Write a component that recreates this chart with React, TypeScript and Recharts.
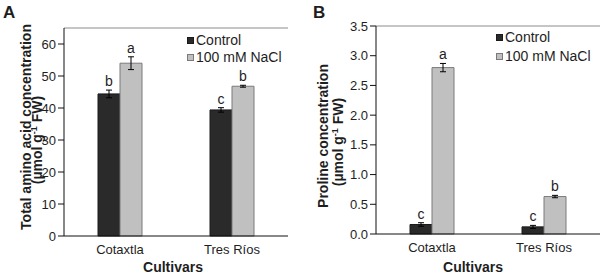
import React from 'react';
import { BarChart, Bar, XAxis, YAxis, ErrorBar, LabelList, Legend, ReferenceLine } from 'recharts';

const cultivars = ['Cotaxtla', 'Tres Ríos'];
const seriesNames = ['Control', '100 mM NaCl'];

const aminoControl = [44.4, 39.4];
const aminoControlErr = [1.2, 0.7];
const aminoControlLetters = ['b', 'c'];
const aminoNaCl = [54.0, 46.8];
const aminoNaClErr = [2.0, 0.3];
const aminoNaClLetters = ['a', 'b'];
const aminoTicks = [0, 10, 20, 30, 40, 50, 60];

const prolineControl = [0.16, 0.12];
const prolineControlErr = [0.03, 0.025];
const prolineControlLetters = ['c', 'c'];
const prolineNaCl = [2.8, 0.63];
const prolineNaClErr = [0.07, 0.02];
const prolineNaClLetters = ['a', 'b'];
const prolineTicks = [0, 0.5, 1.0, 1.5, 2.0, 2.5, 3.0, 3.5];

const FONT = '"Liberation Sans", Arial, Helvetica, sans-serif';
const CTRL_FILL = '#2a2a2a';
const CTRL_STROKE = '#1a1a1a';
const NACL_FILL = '#c0c0c0';
const NACL_STROKE = '#7a7a7a';
const TEXT = '#1e1e1e';
const BORDER = '#8c8c8c';

const buildRows = (c: number[], ce: number[], cl: string[], n: number[], ne: number[], nl: string[]) =>
  cultivars.map((name, i) => ({
    name,
    control: c[i],
    controlErr: ce[i],
    controlLetter: cl[i],
    nacl: n[i],
    naclErr: ne[i],
    naclLetter: nl[i],
  }));

const aminoData = buildRows(aminoControl, aminoControlErr, aminoControlLetters, aminoNaCl, aminoNaClErr, aminoNaClLetters);
const prolineData = buildRows(prolineControl, prolineControlErr, prolineControlLetters, prolineNaCl, prolineNaClErr, prolineNaClLetters);

const makeLetter = (rows: any[], valKey: string, errKey: string) => (props: any) => {
  const { x, y, width, height, value, index } = props;
  const row = rows[index];
  const v = row[valKey];
  const errPx = v ? (row[errKey] / v) * height : 0;
  return (
    <text
      x={x + width / 2}
      y={y - errPx - 4}
      textAnchor="middle"
      fontFamily={FONT}
      fontSize={14}
      fill={TEXT}
    >
      {value}
    </text>
  );
};

const ORDER = ['control', 'nacl'];

const LegendBox = ({ payload, rowH, sq }: any) => {
  const items = [...(payload || [])].sort(
    (a: any, b: any) => ORDER.indexOf(a.dataKey) - ORDER.indexOf(b.dataKey)
  );
  return (
    <div style={{ fontFamily: FONT, fontSize: 14, color: TEXT, lineHeight: `${rowH}px`, whiteSpace: 'nowrap' }}>
      {items.map((p: any) => {
        const isCtrl = p.dataKey === 'control';
        return (
          <div key={p.dataKey} style={{ display: 'flex', alignItems: 'center', height: rowH }}>
            <span
              style={{
                display: 'inline-block',
                width: sq,
                height: sq,
                boxSizing: 'border-box',
                background: isCtrl ? CTRL_FILL : NACL_FILL,
                border: `1px solid ${isCtrl ? CTRL_STROKE : NACL_STROKE}`,
                marginRight: 2,
              }}
            />
            <span>{p.value}</span>
          </div>
        );
      })}
    </div>
  );
};

const YTitle = ({ letter, lx, l1, l1x, l1y, l2x, l2y }: any) => () => (
  <g fontFamily={FONT} fill={TEXT} fontWeight="bold">
    <text x={lx} y={17.5} fontSize={17} fontWeight="bold" fill={TEXT}>
      {letter}
    </text>
    <text x={l1x} y={l1y} fontSize={14} textAnchor="middle" transform={`rotate(-90, ${l1x}, ${l1y})`} fill={TEXT}>
      {l1}
    </text>
    <text x={l2x} y={l2y} fontSize={14} textAnchor="middle" transform={`rotate(-90, ${l2x}, ${l2y})`} fill={TEXT}>
      (µmol g<tspan fontSize={9} dy={-5}>-1</tspan>
      <tspan dy={5}> FW)</tspan>
    </text>
  </g>
);

const XTitle = (cx: number) => () => (
  <text x={cx} y={271.5} textAnchor="middle" fontFamily={FONT} fontSize={14} fontWeight="bold" fill={TEXT}>
    Cultivars
  </text>
);

const tickStyle = { fontFamily: FONT, fontSize: 13, fill: TEXT };

interface PanelProps {
  data: any[];
  width: number;
  left: number;
  marginLeft: number;
  marginRight: number;
  top: number;
  bottomAxis: number;
  domainMax: number;
  ticks: number[];
  fmt: (v: number) => string;
  title: any;
  xTitle: any;
  legendLeft: number;
  legendTop: number;
  legendRowH: number;
  legendSq: number;
}

const Panel = (p: PanelProps) => (
  <div style={{ position: 'absolute', left: p.left, top: 0 }}>
    <BarChart
      width={p.width}
      height={277}
      data={p.data}
      margin={{ top: p.top, right: p.marginRight, bottom: 0, left: p.marginLeft }}
      barSize={22}
      barGap={0}
    >
      <XAxis
        dataKey="name"
        height={277 - p.bottomAxis}
        axisLine={{ stroke: '#111', strokeWidth: 1 }}
        tickLine={false}
        tickSize={0}
        tickMargin={8.5}
        tick={tickStyle}
        label={p.xTitle}
      />
      <YAxis
        yAxisId="l"
        domain={[0, p.domainMax]}
        ticks={p.ticks}
        tickFormatter={p.fmt}
        interval={0}
        width={30}
        axisLine={{ stroke: '#111', strokeWidth: 1 }}
        tickLine={{ stroke: '#111' }}
        tickSize={6}
        tickMargin={2}
        tick={tickStyle}
        label={p.title}
      />
      <YAxis
        yAxisId="r"
        orientation="right"
        domain={[0, p.domainMax]}
        width={0}
        tick={false}
        tickLine={false}
        axisLine={{ stroke: BORDER, strokeWidth: 1 }}
      />
      <ReferenceLine yAxisId="l" y={p.domainMax} stroke={BORDER} strokeWidth={1} />
      <Legend
        layout="vertical"
        align="center"
        verticalAlign="middle"
        wrapperStyle={{ left: p.legendLeft, top: p.legendTop, width: 'auto', height: 'auto' }}
        content={(props: any) => <LegendBox {...props} rowH={p.legendRowH} sq={p.legendSq} />}
      />
      <Bar yAxisId="l" dataKey="control" name={seriesNames[0]} fill={CTRL_FILL} stroke={CTRL_STROKE} strokeWidth={1} isAnimationActive={false}>
        <ErrorBar dataKey="controlErr" width={3} stroke="#000" strokeWidth={1} />
        <LabelList dataKey="controlLetter" content={makeLetter(p.data, 'control', 'controlErr')} />
      </Bar>
      <Bar yAxisId="l" dataKey="nacl" name={seriesNames[1]} fill={NACL_FILL} stroke={NACL_STROKE} strokeWidth={1} isAnimationActive={false}>
        <ErrorBar dataKey="naclErr" width={3} stroke="#000" strokeWidth={1} />
        <LabelList dataKey="naclLetter" content={makeLetter(p.data, 'nacl', 'naclErr')} />
      </Bar>
    </BarChart>
  </div>
);

export default function App() {
  return (
    <div style={{ position: 'absolute', left: 0, top: 0, width: 602, height: 277, background: '#fff', overflow: 'hidden' }}>
      <Panel
        data={aminoData}
        width={300}
        left={0}
        marginLeft={34}
        marginRight={12}
        top={28}
        bottomAxis={236}
        domainMax={65}
        ticks={aminoTicks}
        fmt={(v: number) => String(v)}
        title={YTitle({
          letter: 'A',
          lx: 3,
          l1: 'Total amino acid concentration',
          l1x: 31,
          l1y: 127,
          l2x: 41.5,
          l2y: 140,
        })}
        xTitle={XTitle(173)}
        legendLeft={187}
        legendTop={31.5}
        legendRowH={17.5}
        legendSq={7}
      />
      <Panel
        data={prolineData}
        width={302}
        left={300}
        marginLeft={46}
        marginRight={2}
        top={26}
        bottomAxis={234}
        domainMax={3.5}
        ticks={prolineTicks}
        fmt={(v: number) => v.toFixed(1)}
        title={YTitle({
          letter: 'B',
          lx: 13,
          l1: 'Proline concentration',
          l1x: 27.5,
          l1y: 136,
          l2x: 43,
          l2y: 142,
        })}
        xTitle={XTitle(173)}
        legendLeft={196}
        legendTop={28}
        legendRowH={19}
        legendSq={7}
      />
    </div>
  );
}
